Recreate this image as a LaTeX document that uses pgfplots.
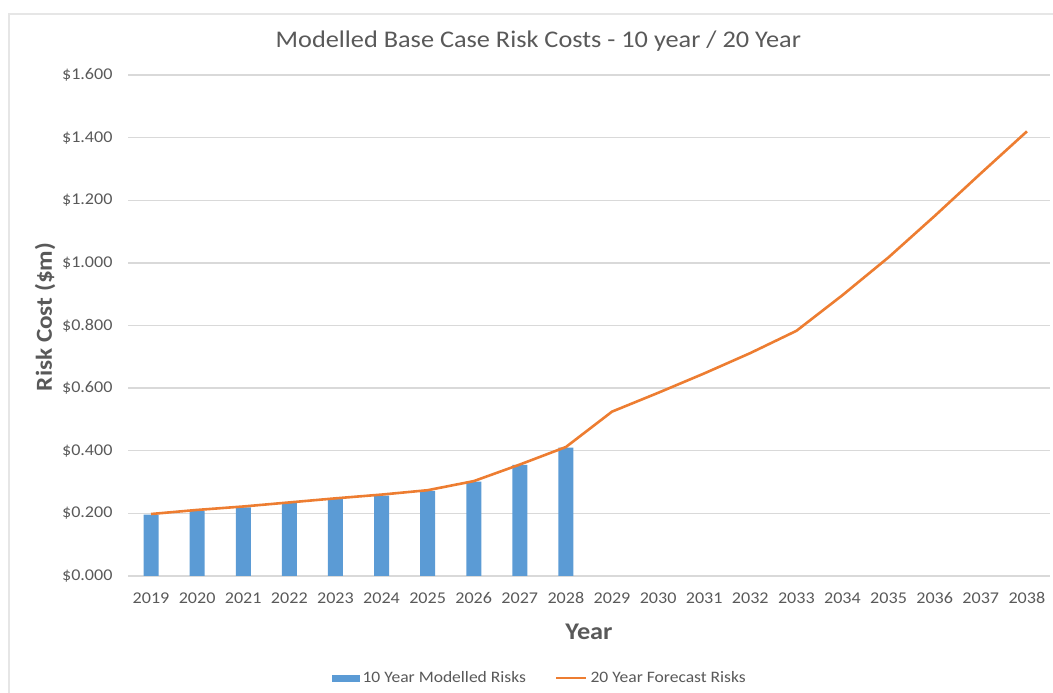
\documentclass[border=0pt]{standalone}
\usepackage{pgfplots}
\pgfplotsset{compat=1.18}
\usepackage{fontspec}
\setmainfont{Carlito}[FakeStretch=1.1]
\definecolor{barblue}{HTML}{5B9BD5}
\definecolor{lineorange}{HTML}{ED7D31}
\definecolor{txtgray}{HTML}{595959}
\definecolor{gridgray}{HTML}{D9D9D9}
\definecolor{framegray}{HTML}{E6E6E6}
\begin{document}
\begin{tikzpicture}
\path[use as bounding box] (0bp,0bp) rectangle (1053bp,693bp);
\draw[framegray, line width=1.2bp] (9bp,0bp) -- (9bp,679bp) -- (1053bp,679bp);
\begin{axis}[
  at={(128bp,117bp)}, anchor=south west,
  scale only axis, width=922bp, height=501bp,
  xmin=2018.5, xmax=2038.5, ymin=0, ymax=1.6,
  xtick={2019,...,2038},
  ytick={0,0.2,...,1.6},
  /pgf/number format/assume math mode=true,
  xticklabel={\pgfmathprintnumber[1000 sep={}]{\tick}},
  yticklabel={\$\pgfmathprintnumber[fixed,fixed zerofill,precision=3]{\tick}},
  ticklabel style={font=\fontsize{16.5}{19}\selectfont, text=txtgray},
  xticklabel style={yshift=-13bp},
  yticklabel style={xshift=-12bp},
  major tick length=0pt,
  axis line style={draw=none},
  ymajorgrids, grid style={gridgray, line width=1.3bp},
  title={Modelled Base Case Risk Costs - 10 year / 20 Year},
  title style={font=\fontsize{24}{28}\selectfont, text=txtgray, at={(0.445,1.055)}, anchor=center},
  xlabel={Year},
  ylabel={Risk Cost (\$m)},
  xlabel style={font=\bfseries\fontsize{24}{28}\selectfont, text=txtgray, at={(0.5,-0.112)}, anchor=center},
  ylabel style={font=\bfseries\fontsize{23}{27}\selectfont, text=txtgray, at={(-0.090,0.517)}, anchor=center},
  legend columns=2,
  legend style={draw=none, at={(0.447,-0.2036)}, anchor=center, font=\fontsize{16}{19}\selectfont, text=txtgray,
    /tikz/every even column/.append style={column sep=26bp},
    nodes={inner xsep=3bp}},
]
\addplot[ybar, bar width=15bp, fill=barblue, draw=none,
  legend image code/.code={\fill[barblue] (0bp,-3.5bp) rectangle (28bp,3.5bp);}] coordinates {
(2019,0.196) (2020,0.209) (2021,0.219) (2022,0.233) (2023,0.246)
(2024,0.257) (2025,0.272) (2026,0.301) (2027,0.355) (2028,0.410)
};
\addlegendentry{10 Year Modelled Risks}
\addplot[lineorange, line width=2.6bp, mark=none,
  legend image code/.code={\draw[lineorange, line width=2.6bp] (0bp,0bp) -- (30bp,0bp);}] coordinates {
(2019,0.198) (2020,0.211) (2021,0.222) (2022,0.235) (2023,0.248)
(2024,0.260) (2025,0.274) (2026,0.303) (2027,0.356) (2028,0.412)
(2029,0.525) (2030,0.585) (2031,0.647) (2032,0.712) (2033,0.783)
(2034,0.897) (2035,1.018) (2036,1.150) (2037,1.286) (2038,1.420)
};
\addlegendentry{20 Year Forecast Risks}
\end{axis}
\end{tikzpicture}
\end{document}
